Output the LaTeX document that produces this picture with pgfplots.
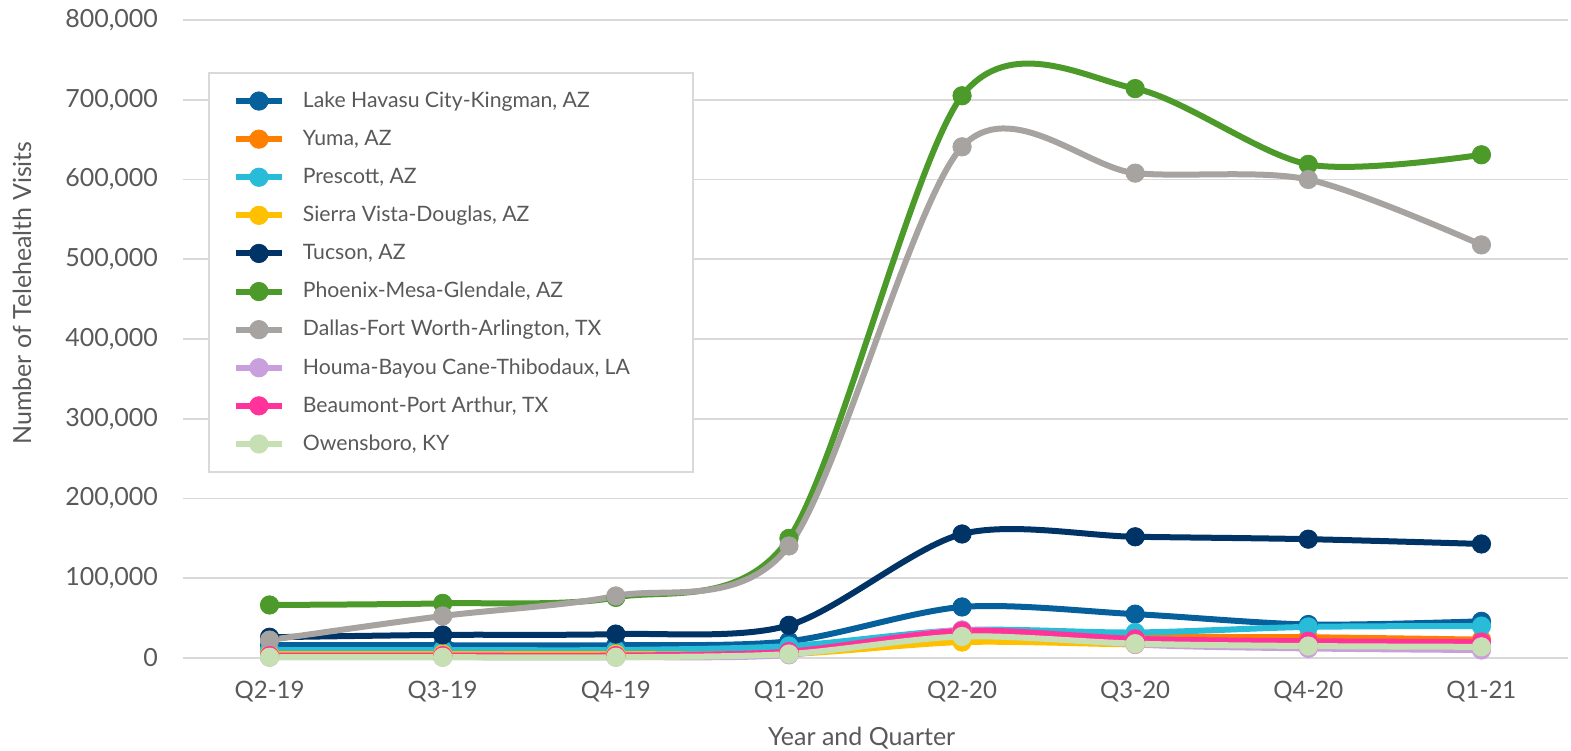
\documentclass[border=0pt]{standalone}
\usepackage{pgfplots}
\pgfplotsset{compat=1.18}
\usepackage{fontspec}
\setmainfont{Lato}
\definecolor{txt}{RGB}{89,89,89}
\definecolor{grid}{RGB}{217,217,217}
\definecolor{cHav}{RGB}{6,96,156}
\definecolor{cYum}{RGB}{255,128,0}
\definecolor{cPre}{RGB}{40,188,216}
\definecolor{cSie}{RGB}{255,192,0}
\definecolor{cTuc}{RGB}{0,51,102}
\definecolor{cPho}{RGB}{76,154,42}
\definecolor{cDal}{RGB}{166,163,160}
\definecolor{cHou}{RGB}{201,160,220}
\definecolor{cBea}{RGB}{255,51,153}
\definecolor{cOwe}{RGB}{198,224,180}
\newcommand{\legtxt}[1]{\makebox[181bp][l]{#1}}
\begin{document}
\begin{tikzpicture}
\useasboundingbox (-91.5bp,-46.5bp) rectangle (694bp,329bp);
\begin{axis}[
  at={(0,0)}, anchor=south west,
  scale only axis, width=692.5bp, height=319bp,
  xmin=-0.5, xmax=7.5, ymin=0, ymax=800000,
  axis line style={draw=none},
  tick style={draw=none},
  clip=false,
  xtick={0,...,7},
  xticklabels={Q2-19,Q3-19,Q4-19,Q1-20,Q2-20,Q3-20,Q4-20,Q1-21},
  ytick={0,100000,200000,300000,400000,500000,600000,700000,800000},
  yticklabels={0,{100,000},{200,000},{300,000},{400,000},{500,000},{600,000},{700,000},{800,000}},
  xmajorgrids=false, ymajorgrids=true,
  y grid style={grid, line width=0.8bp},
  major tick length=0pt,
  scaled y ticks=false,
  tick label style={text=txt, font=\fontsize{12.5bp}{15bp}\selectfont},
  yticklabel style={anchor=east, xshift=-9bp},
  xticklabel style={anchor=center, yshift=-17bp, font=\fontsize{12bp}{14bp}\selectfont},
  xlabel={Year and Quarter},
  ylabel={Number of Telehealth Visits},
  label style={text=txt, font=\fontsize{12.5bp}{15bp}\selectfont},
  xlabel style={at={(axis description cs:0.490,-0.1254)}, anchor=center},
  ylabel style={at={(axis description cs:-0.1162,0.572)}, anchor=center},
  every axis plot/.append style={line width=3bp, smooth, tension=0.5, mark=*, mark size=4.6bp, mark options={solid, line width=0.4bp}},
  legend style={at={(0.018,0.9185)}, anchor=north west, draw=grid, line width=1bp,
    font=\fontsize{10.6bp}{13bp}\selectfont, text=txt, inner xsep=12bp, inner ysep=4.5bp,
    row sep=0pt, cells={anchor=west, minimum height=19.05bp},
    /tikz/every odd column/.append style={column sep=7bp}},
  legend image code/.code={\draw[mark repeat=2,mark phase=2,smooth=false] plot coordinates {(0bp,0bp) (11.5bp,0bp) (23bp,0bp)};},
]
\addplot[color=cHav] coordinates {(0,16000) (1,16000) (2,16000) (3,21000) (4,64000) (5,55000) (6,42000) (7,46000)};
\addlegendentry{\legtxt{Lake Havasu City-Kingman, AZ}}
\addplot[color=cYum] coordinates {(0,6000) (1,6000) (2,6000) (3,8000) (4,33000) (5,27000) (6,26000) (7,23000)};
\addlegendentry{\legtxt{Yuma, AZ}}
\addplot[color=cPre] coordinates {(0,10000) (1,10000) (2,10000) (3,15000) (4,35000) (5,32000) (6,39000) (7,40000)};
\addlegendentry{\legtxt{Prescott, AZ}}
\addplot[color=cSie] coordinates {(0,5000) (1,5000) (2,5000) (3,5000) (4,20000) (5,17000) (6,15000) (7,13000)};
\addlegendentry{\legtxt{Sierra Vista-Douglas, AZ}}
\addplot[color=cTuc] coordinates {(0,26000) (1,29000) (2,30000) (3,41000) (4,155500) (5,152000) (6,149000) (7,143000)};
\addlegendentry{\legtxt{Tucson, AZ}}
\addplot[color=cPho] coordinates {(0,66500) (1,68500) (2,76000) (3,150000) (4,705000) (5,714000) (6,619000) (7,631000)};
\addlegendentry{\legtxt{Phoenix-Mesa-Glendale, AZ}}
\addplot[color=cDal] coordinates {(0,22500) (1,52700) (2,77800) (3,140500) (4,641000) (5,608000) (6,600000) (7,518000)};
\addlegendentry{\legtxt{Dallas-Fort Worth-Arlington, TX}}
\addplot[color=cHou] coordinates {(0,1000) (1,1000) (2,1000) (3,4000) (4,35000) (5,17000) (6,12000) (7,10000)};
\addlegendentry{\legtxt{Houma-Bayou Cane-Thibodaux, LA}}
\addplot[color=cBea] coordinates {(0,3000) (1,3000) (2,3000) (3,8000) (4,34000) (5,24000) (6,21000) (7,20000)};
\addlegendentry{\legtxt{Beaumont-Port Arthur, TX}}
\addplot[color=cOwe] coordinates {(0,1000) (1,1000) (2,1000) (3,5000) (4,27000) (5,18000) (6,15000) (7,14000)};
\addlegendentry{\legtxt{Owensboro, KY}}
\end{axis}
\end{tikzpicture}
\end{document}
